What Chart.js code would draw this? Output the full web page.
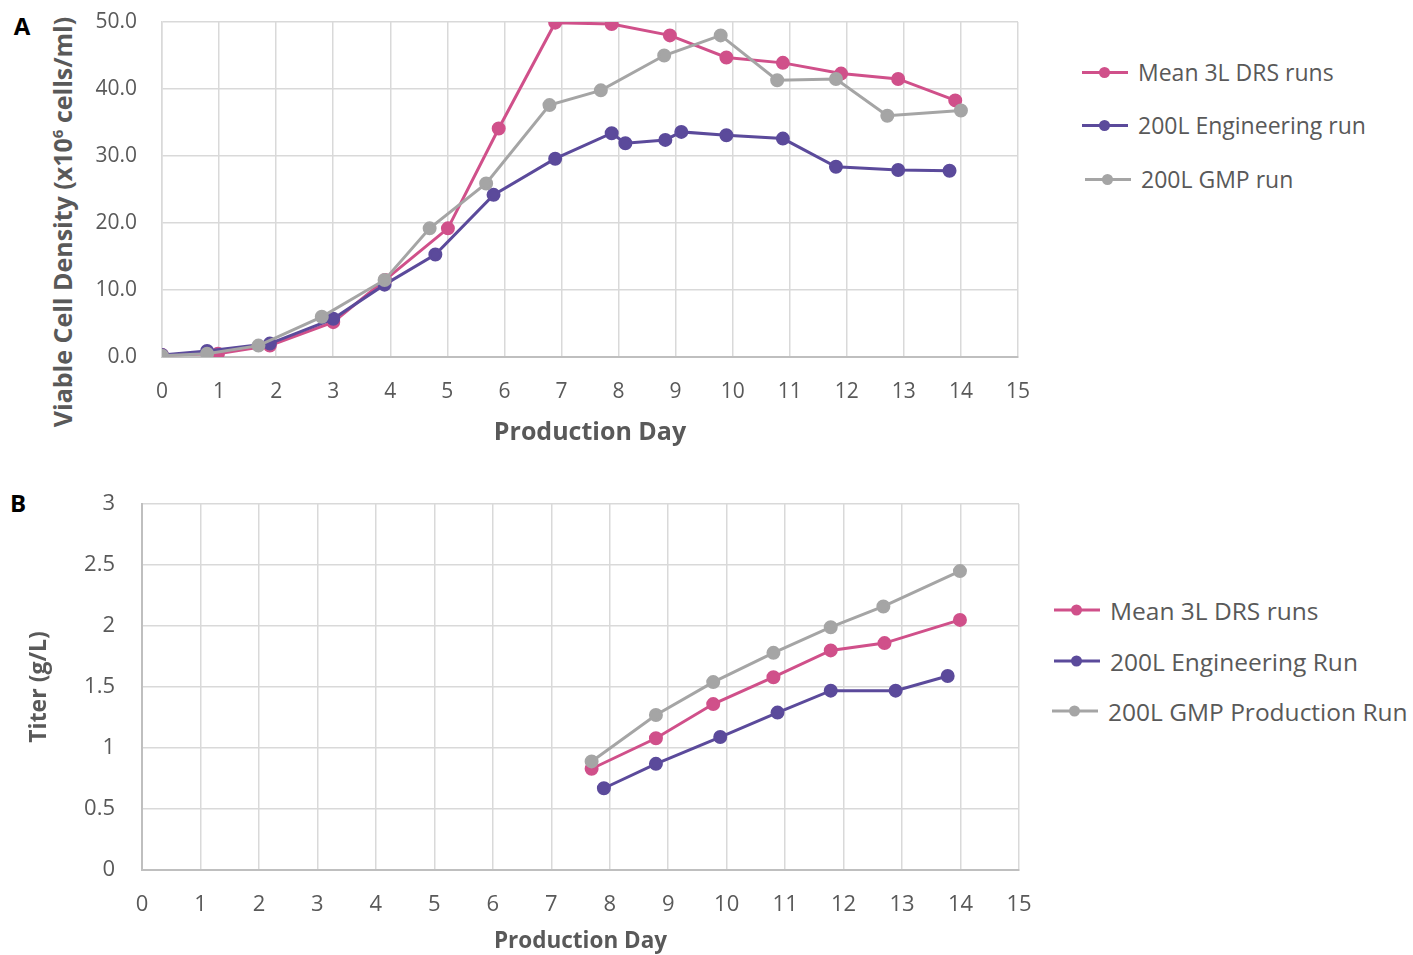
<!DOCTYPE html>
<html>
<head>
<meta charset="utf-8">
<script src="https://cdn.jsdelivr.net/npm/chart.js@4/dist/chart.umd.min.js"></script>
<style>
   body { margin: 0; background: #fff; width: 1413px; height: 955px; position: relative; overflow: hidden; font-family: "Open Sans", sans-serif; }
   .box { position: absolute; left: 0; }
   .panel { position: absolute; font-weight: bold; font-size: 24px; color: #000; transform: translate(-50%, -50%); }
   .ytitle { position: absolute; font-weight: bold; color: #595959; white-space: nowrap; transform: translate(-50%, -50%) rotate(-90deg); }
   .item { position: absolute; display: flex; align-items: center; white-space: nowrap; color: #595959; transform: translateY(-50%); }
   .mark { position: relative; width: 46px; height: 3px; margin-right: 10px; }
   .mark i { position: absolute; left: 17px; top: -4px; width: 11px; height: 11px; border-radius: 50%; }
</style>
</head>
<body>
<div class="panel" style="left:22px;top:25px">A</div>
<div class="panel" style="left:18px;top:502px">B</div>
<div class="ytitle" style="left:62px;top:222px;font-size:25px">Viable Cell Density (x10<sup style="font-size:15px">6</sup> cells/ml)</div>
<div class="box" style="top:0;width:1040px;height:470px"><canvas id="vcdChart"></canvas></div>
<div class="box" style="top:480px;width:1040px;height:475px"><canvas id="titerChart"></canvas></div>
<div id="legendA"></div>
<div id="legendB"></div>
<script>
// panel A - viable cell density
const meanDays = [0, 0.98, 1.89, 3.0, 3.91, 5.01, 5.9, 6.89, 7.88, 8.9, 9.89, 10.88, 11.9, 12.9, 13.9];
const meanVcd = [0.3, 0.5, 1.7, 5.2, 11.5, 19.2, 34.1, 49.9, 49.7, 48.0, 44.7, 43.9, 42.3, 41.5, 38.3];
const engDays = [0, 0.79, 1.89, 3.0, 3.9, 4.79, 5.81, 6.89, 7.88, 8.12, 8.82, 9.1, 9.89, 10.88, 11.81, 12.9, 13.8];
const engVcd = [0.3, 0.9, 2.0, 5.7, 10.8, 15.3, 24.2, 29.6, 33.4, 31.9, 32.4, 33.6, 33.1, 32.6, 28.4, 27.9, 27.8];
const gmpDays = [0, 0.79, 1.69, 2.8, 3.9, 4.69, 5.68, 6.79, 7.69, 8.8, 9.79, 10.78, 11.81, 12.71, 14.0];
const gmpVcd = [0.2, 0.5, 1.7, 6.0, 11.5, 19.2, 25.9, 37.6, 39.8, 45.0, 48.0, 41.3, 41.5, 36.0, 36.8];
const legendA = ["Mean 3L DRS runs", "200L Engineering run", "200L GMP run"];

// panel B - titer
const meanTiterDays = [7.69, 8.79, 9.77, 10.8, 11.78, 12.7, 13.99];
const meanTiter = [0.83, 1.08, 1.36, 1.58, 1.80, 1.86, 2.05];
const engTiterDays = [7.9, 8.79, 9.89, 10.87, 11.78, 12.89, 13.78];
const engTiter = [0.67, 0.87, 1.09, 1.29, 1.47, 1.47, 1.59];
const gmpTiterDays = [7.69, 8.79, 9.77, 10.8, 11.78, 12.68, 13.99];
const gmpTiter = [0.89, 1.27, 1.54, 1.78, 1.99, 2.16, 2.45];
const legendB = ["Mean 3L DRS runs", "200L Engineering Run", "200L GMP Production Run"];

const colors = ['#d0508a', '#5b4a9b', '#a5a5a5'];
const tickColor = '#595959';
const gridColor = '#d9d9d9';

function pairs(xs, ys) {
   return xs.map((x, i) => ({ x: x, y: ys[i] }));
}

function makeSet(label, data, i) {
   return {
      label: label,
      data: data,
      borderColor: colors[i],
      backgroundColor: colors[i],
      pointBackgroundColor: colors[i],
      pointBorderColor: colors[i],
      borderWidth: 3,
      pointRadius: 5.5,
      pointHoverRadius: 5.5,
      tension: 0,
      order: 3 - i // gray drawn last, like excel
   };
}

function drawLegend(id, labels, left, tops, size) {
   const el = document.getElementById(id);
   labels.forEach((txt, i) => {
      const d = document.createElement('div');
      d.className = 'item';
      d.style.left = left[i] + 'px';
      d.style.top = tops[i] + 'px';
      d.style.fontSize = size + 'px';
      d.innerHTML = `<span class="mark" style="background:${colors[i]}"><i style="background:${colors[i]}"></i></span>${txt}`;
      el.appendChild(d);
   });
}

// fixed axis sizes so the plot area sits where the layout padding says
function fixX(h) {
   return s => { s.height = h; s.paddingLeft = 0; s.paddingRight = 0; };
}
function fixY(w) {
   return s => { s.width = w; s.paddingTop = 0; s.paddingBottom = 0; };
}

Chart.defaults.font.family = '"Open Sans", sans-serif';
Chart.defaults.color = tickColor;

new Chart(document.getElementById('vcdChart'), {
   type: 'line',
   data: {
      datasets: [
         makeSet(legendA[0], pairs(meanDays, meanVcd), 0),
         makeSet(legendA[1], pairs(engDays, engVcd), 1),
         makeSet(legendA[2], pairs(gmpDays, gmpVcd), 2)
      ]
   },
   options: {
      responsive: true, maintainAspectRatio: false, animation: false,
      layout: { padding: { top: 22, right: 22, left: 0, bottom: 0 } },
      plugins: { legend: { display: false }, tooltip: { enabled: false } },
      scales: {
         x: {
            type: 'linear', min: 0, max: 15,
            afterFit: fixX(113),
            ticks: { stepSize: 1, padding: 22, font: { size: 21 }, color: tickColor },
            grid: { color: gridColor, lineWidth: 1.5, drawTicks: false },
            border: { color: '#bfbfbf', width: 2 },
            title: { display: true, text: 'Production Day', font: { size: 25, weight: 'bold' }, color: tickColor, padding: { top: 0, bottom: 22 } }
         },
         y: {
            min: 0, max: 50,
            afterFit: fixY(162),
            ticks: { stepSize: 10, padding: 25, font: { size: 21 }, color: tickColor, callback: v => v.toFixed(1) },
            grid: { color: gridColor, lineWidth: 1.5, drawTicks: false },
            border: { color: gridColor, width: 1.5 }
         }
      }
   }
});

new Chart(document.getElementById('titerChart'), {
   type: 'line',
   data: {
      datasets: [
         makeSet(legendB[0], pairs(meanTiterDays, meanTiter), 0),
         makeSet(legendB[1], pairs(engTiterDays, engTiter), 1),
         makeSet(legendB[2], pairs(gmpTiterDays, gmpTiter), 2)
      ]
   },
   options: {
      responsive: true, maintainAspectRatio: false, animation: false,
      layout: { padding: { top: 24, right: 21, left: 0, bottom: 0 } },
      plugins: { legend: { display: false }, tooltip: { enabled: false } },
      scales: {
         x: {
            type: 'linear', min: 0, max: 15,
            afterFit: fixX(85),
            ticks: { stepSize: 1, padding: 22, font: { size: 22 }, color: tickColor },
            grid: { color: gridColor, lineWidth: 1.5, drawTicks: false },
            border: { color: '#bfbfbf', width: 2 },
            title: { display: true, text: 'Production Day', font: { size: 22.5, weight: 'bold' }, color: tickColor, padding: { top: 0, bottom: 0 } }
         },
         y: {
            min: 0, max: 3,
            afterFit: fixY(142),
            ticks: { stepSize: 0.5, padding: 27, font: { size: 22 }, color: tickColor, callback: v => String(v) },
            grid: { color: gridColor, lineWidth: 1.5, drawTicks: false },
            border: { color: '#bfbfbf', width: 2 },
            title: { display: true, text: 'Titer (g/L)', font: { size: 23, weight: 'bold' }, color: tickColor, padding: { top: 26, bottom: 0 } }
         }
      }
   }
});

drawLegend('legendA', legendA, [1082, 1082, 1085], [72, 125, 179], 23);
drawLegend('legendB', legendB, [1054, 1054, 1052], [610, 661, 711], 24.5);
</script>
</body>
</html>
